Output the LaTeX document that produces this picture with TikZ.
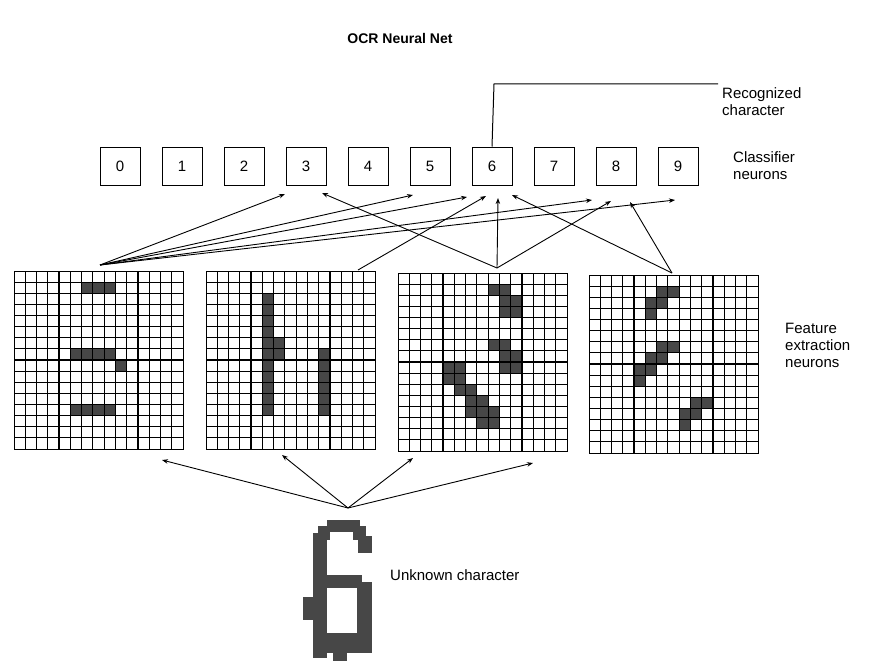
\documentclass[tikz,border=0pt]{standalone}
\usepackage{fontspec}
\setmainfont{Liberation Sans}
\usetikzlibrary{arrows.meta}
\newcommand\FeatGrid[4]{%
  \node[gridbox] (#1) at (#2,#3) {};
  \foreach \c/\r in {#4} \fill[cellfill] ({#2+\c*11.267},{#3+\r*11.125}) rectangle ++(11.267,11.125);
  \foreach \c in {1,...,14} \draw[gline] ({#2+\c*11.267},#3) -- ++(0,178);
  \foreach \r in {1,...,15} \draw[gline] (#2,{#3+\r*11.125}) -- ++(169,0);
}
\begin{document}
\begin{tikzpicture}[x=1pt,y=-1pt,
  lbl/.style={font=\fontsize{15}{17}\selectfont, align=left, anchor=west, inner sep=0},
  cbox/.style={draw, line width=1pt, minimum width=40pt, minimum height=38pt, inner sep=0, font=\fontsize{15}{15}\selectfont},
  conn/.style={line width=0.9pt, -{Stealth[length=6pt,width=4.5pt]}},
  gridbox/.style={draw, line width=1.3pt, minimum width=169pt, minimum height=178pt, inner sep=0, anchor=north west},
  gline/.style={line width=1.15pt},
  cellfill/.style={fill=black!72},
  sixfill/.style={fill=black!72},
]
\useasboundingbox (0,0) rectangle (887,661);
\fill[white] (0,0) rectangle (887,661);

% title
\node[font=\bfseries\fontsize{14}{14}\selectfont] (title) at (400,38) {OCR Neural Net};

% classifier boxes
\foreach \i in {0,...,9} \node[cbox] (b\i) at ({120+\i*62},166) {\i};

% recognized character
\coordinate (rc1) at (494,84);
\coordinate (rc2) at (718,84);
\draw[line width=1pt] (b6.north) -- (rc1) -- (rc2);
\node[lbl] (reclbl) at (722,102) {Recognized\\character};
\node[lbl] (clslbl) at (733,166) {Classifier\\neurons};

% feature grids
\FeatGrid{g1}{14}{271}{6/1,7/1,8/1,5/7,6/7,7/7,8/7,9/8,5/12,6/12,7/12,8/12}
\FeatGrid{g2}{206}{271}{5/2,5/3,5/4,5/5,5/6,5/7,5/8,5/9,5/10,5/11,5/12,6/6,6/7,10/7,10/8,10/9,10/10,10/11,10/12}
\FeatGrid{g3}{398}{273}{8/1,9/1,9/2,10/2,10/3,9/3,8/6,9/6,9/7,10/7,10/8,9/8,4/8,5/8,4/9,5/9,5/10,6/10,6/11,7/11,6/12,7/12,8/12,7/13,8/13}
\FeatGrid{g4}{589}{275}{6/1,7/1,5/2,6/2,5/3,6/6,7/6,5/7,6/7,4/8,5/8,4/9,9/11,10/11,8/12,9/12,8/13}
\node[lbl] (featlbl) at (785,345) {Feature\\extraction\\neurons};

% sources on grids
\coordinate (s1) at (100,265);
\coordinate (s2) at (358,270);
\coordinate (s3) at (497,268);
\coordinate (s4) at (672,273);
% tips at classifiers
\coordinate (t13) at (285,194);
\coordinate (t15) at (413,195);
\coordinate (t16) at (467,197);
\coordinate (t18) at (592,200);
\coordinate (t19) at (675,200);
\coordinate (t26) at (486,196);
\coordinate (t33) at (322,193);
\coordinate (t36) at (498,198);
\coordinate (t38) at (611,201);
\coordinate (t46) at (512,195);
\coordinate (t48) at (630,202);
\foreach \t in {t13,t15,t16,t18,t19} \draw[conn] (s1) -- (\t);
\draw[conn] (s2) -- (t26);
\foreach \t in {t33,t36,t38} \draw[conn] (s3) -- (\t);
\foreach \t in {t46,t48} \draw[conn] (s4) -- (\t);

% unknown character
\fill[sixfill] (327,520) rectangle (360,532);
\fill[sixfill] (318,526) rectangle (330,540);
\fill[sixfill] (353,526) rectangle (366,540);
\fill[sixfill] (358,536) rectangle (372,553);
\fill[sixfill] (313,533) rectangle (327,658);
\fill[sixfill] (323,575) rectangle (362,588);
\fill[sixfill] (357,582) rectangle (372,653);
\fill[sixfill] (318,633) rectangle (372,653);
\fill[sixfill] (303,597) rectangle (313,620);
\fill[sixfill] (333,653) rectangle (347,661);
\node[lbl] (unklbl) at (390,575) {Unknown character};

% input arrows
\coordinate (u0) at (348,508);
\coordinate (f1) at (162,460);
\coordinate (f2) at (282,455);
\coordinate (f3) at (413,458);
\coordinate (f4) at (533,463);
\foreach \f in {f1,f2,f3,f4} \draw[conn] (u0) -- (\f);
\end{tikzpicture}
\end{document}
